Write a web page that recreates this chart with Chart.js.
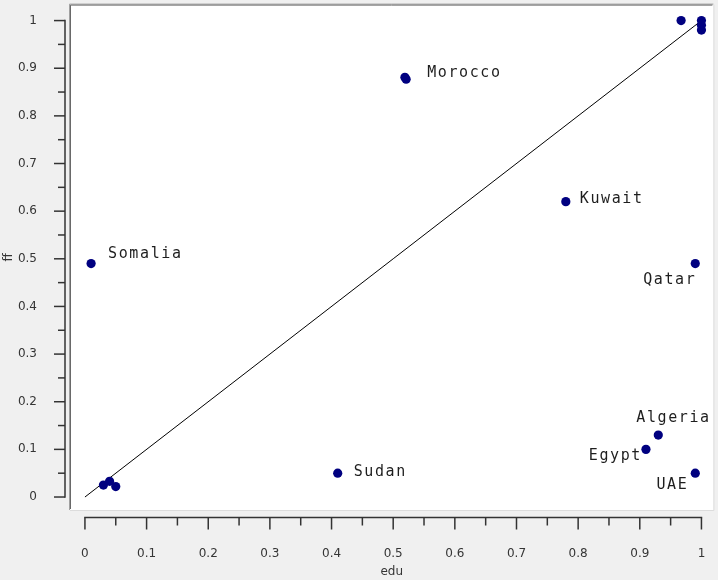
<!DOCTYPE html>
<html>
<head>
<meta charset="utf-8">
<script src="https://cdn.jsdelivr.net/npm/chart.js@4/dist/chart.umd.min.js"></script>
<style>
  html, body { margin: 0; padding: 0; background: #f0f0f0; }
  #wrap { width: 718px; height: 580px; position: relative; }
</style>
</head>
<body>
<div id="wrap"><canvas id="c" width="718" height="580"></canvas></div>
<script>
// ---- data ----
const countries = ['', '', '', '', '', 'Morocco', 'Kuwait', 'Qatar', 'Somalia', 'Sudan', 'Algeria', 'Egypt', 'UAE', '', '', ''];
const edu = [0.967, 1.0, 1.0, 1.0, 0.519, 0.521, 0.78, 0.99, 0.01, 0.41, 0.93, 0.91, 0.99, 0.03, 0.04, 0.05];
const ff  = [1.0, 1.0, 0.99, 0.98, 0.881, 0.877, 0.62, 0.49, 0.49, 0.05, 0.13, 0.10, 0.05, 0.025, 0.033, 0.022];
const fitX = [0, 1];
const fitY = [0, 1];
const xTicks = [0, 0.1, 0.2, 0.3, 0.4, 0.5, 0.6, 0.7, 0.8, 0.9, 1];
const xTickLabels = ['0', '0.1', '0.2', '0.3', '0.4', '0.5', '0.6', '0.7', '0.8', '0.9', '1'];
const yTicks = [0, 0.1, 0.2, 0.3, 0.4, 0.5, 0.6, 0.7, 0.8, 0.9, 1];
const yTickLabels = ['0', '0.1', '0.2', '0.3', '0.4', '0.5', '0.6', '0.7', '0.8', '0.9', '1'];
const xTitle = 'edu';
const yTitle = 'ff';

// ---- label placement (style, pixels relative to the point) ----
const labelStyle = {
  'Morocco': { dx: 21, dy: -2, align: 'left' },
  'Kuwait':  { dx: 14, dy: 1,  align: 'left' },
  'Qatar':   { dx: 1, dy: 20, align: 'right' },
  'Somalia': { dx: 17, dy: -6, align: 'left' },
  'Sudan':   { dx: 16, dy: 3,  align: 'left' },
  'Algeria': { dx: -22, dy: -13, align: 'left' },
  'Egypt':   { dx: -4, dy: 11,  align: 'right' },
  'UAE':     { dx: -7, dy: 16, align: 'right' }
};

const tickFont = { family: 'DejaVu Sans', size: 12 };
const textColor = '#353535';

const points = edu.map((v, i) => ({ x: v, y: ff[i] }));
const fitLine = fitX.map((v, i) => ({ x: v, y: fitY[i] }));

const framePlugin = {
  id: 'frame',
  beforeDraw(chart) {
    const { ctx, chartArea: a } = chart;
    ctx.save();
    ctx.fillStyle = '#f0f0f0';
    ctx.fillRect(0, 0, chart.width, chart.height);
    ctx.fillStyle = '#ffffff';
    ctx.fillRect(a.left, a.top, a.right - a.left, a.bottom - a.top);
    // sunken border
    ctx.strokeStyle = '#a0a0a0';
    ctx.lineWidth = 1;
    ctx.beginPath();
    ctx.moveTo(a.left - 0.5, a.bottom);
    ctx.lineTo(a.left - 0.5, a.top - 0.5);
    ctx.lineTo(a.right, a.top - 0.5);
    ctx.stroke();
    ctx.strokeStyle = '#696969';
    ctx.beginPath();
    ctx.moveTo(a.left + 0.5, a.bottom - 1);
    ctx.lineTo(a.left + 0.5, a.top + 0.5);
    ctx.lineTo(a.right - 1, a.top + 0.5);
    ctx.stroke();
    ctx.strokeStyle = '#dcdcdc';
    ctx.beginPath();
    ctx.moveTo(a.left, a.bottom + 0.5);
    ctx.lineTo(a.right + 0.5, a.bottom + 0.5);
    ctx.lineTo(a.right + 0.5, a.top);
    ctx.stroke();
    ctx.restore();
  },
  afterDraw(chart) {
    const { ctx, chartArea: a } = chart;
    const xs = chart.scales.x, ys = chart.scales.y;
    ctx.save();
    ctx.strokeStyle = '#333333';
    // y axis
    const axX = a.left - 5;
    const y0 = ys.getPixelForValue(yTicks[0]);
    const y1 = ys.getPixelForValue(yTicks[yTicks.length - 1]);
    ctx.lineWidth = 1.5;
    ctx.beginPath();
    ctx.moveTo(axX, y0 + 0.75);
    ctx.lineTo(axX, y1 - 0.75);
    ctx.stroke();
    for (let i = 0; i < yTicks.length; i++) {
      const p = ys.getPixelForValue(yTicks[i]);
      ctx.beginPath();
      ctx.moveTo(axX - 11, p);
      ctx.lineTo(axX, p);
      ctx.stroke();
      if (i < yTicks.length - 1) {
        const m = ys.getPixelForValue((yTicks[i] + yTicks[i + 1]) / 2);
        ctx.beginPath();
        ctx.moveTo(axX - 7, m);
        ctx.lineTo(axX, m);
        ctx.stroke();
      }
    }
    // x axis
    const axY = a.bottom + 7.5;
    const x0 = xs.getPixelForValue(xTicks[0]);
    const x1 = xs.getPixelForValue(xTicks[xTicks.length - 1]);
    ctx.beginPath();
    ctx.moveTo(x0 - 0.75, axY);
    ctx.lineTo(x1 + 0.75, axY);
    ctx.stroke();
    for (let i = 0; i < xTicks.length; i++) {
      const p = xs.getPixelForValue(xTicks[i]);
      ctx.beginPath();
      ctx.moveTo(p, axY);
      ctx.lineTo(p, axY + 12);
      ctx.stroke();
      if (i < xTicks.length - 1) {
        const m = xs.getPixelForValue((xTicks[i] + xTicks[i + 1]) / 2);
        ctx.beginPath();
        ctx.moveTo(m, axY);
        ctx.lineTo(m, axY + 8);
        ctx.stroke();
      }
    }
    // point labels
    ctx.font = '15px "DejaVu Sans Mono"';
    ctx.letterSpacing = '1.6px';
    ctx.fillStyle = '#1e1e1e';
    ctx.textBaseline = 'alphabetic';
    for (let i = 0; i < countries.length; i++) {
      const name = countries[i];
      if (!name) continue;
      const st = labelStyle[name];
      const px = xs.getPixelForValue(edu[i]);
      const py = ys.getPixelForValue(ff[i]);
      ctx.textAlign = st.align;
      ctx.fillText(name, px + st.dx, py + st.dy);
    }
    ctx.restore();
  }
};

new Chart(document.getElementById('c'), {
  type: 'scatter',
  data: {
    datasets: [
      {
        type: 'line',
        data: fitLine,
        borderColor: '#000000',
        borderWidth: 1,
        pointRadius: 0,
        fill: false,
        order: 2
      },
      {
        type: 'scatter',
        data: points,
        backgroundColor: '#000080',
        borderColor: '#000080',
        borderWidth: 0,
        pointRadius: 4.6,
        pointHoverRadius: 4.6,
        order: 1
      }
    ]
  },
  options: {
    responsive: false,
    animation: false,
    devicePixelRatio: 1,
    layout: { padding: { top: 4, right: 2, left: 0, bottom: 0 } },
    plugins: { legend: { display: false }, tooltip: { enabled: false } },
    scales: {
      x: {
        type: 'linear',
        min: -0.02423,
        max: 1.01939,
        grid: { display: false },
        border: { display: false },
        afterFit(s) { s.height = 70; s.paddingLeft = 0; s.paddingRight = 0; },
        afterBuildTicks(s) { s.ticks = xTicks.map(v => ({ value: v })); },
        ticks: {
          padding: 29,
          color: textColor,
          font: tickFont,
          autoSkip: false,
          maxRotation: 0,
          callback: (v, i) => xTickLabels[i]
        },
        title: {
          display: true,
          text: xTitle,
          color: textColor,
          font: { family: 'DejaVu Sans', size: 12, lineHeight: 1 },
          padding: { top: 0, bottom: 2.5 }
        }
      },
      y: {
        type: 'linear',
        min: -0.02725,
        max: 1.03354,
        grid: { display: false },
        border: { display: false },
        afterFit(s) { s.width = 70; s.paddingTop = 0; s.paddingBottom = 0; },
        afterBuildTicks(s) { s.ticks = yTicks.map(v => ({ value: v })); },
        ticks: {
          padding: 25,
          color: textColor,
          font: tickFont,
          autoSkip: false,
          callback: (v, i) => yTickLabels[i]
        },
        title: {
          display: true,
          text: yTitle,
          color: textColor,
          font: { family: 'DejaVu Sans', size: 12, lineHeight: 1 },
          padding: { top: 3, bottom: 0 }
        }
      }
    }
  },
  plugins: [framePlugin]
});
</script>
</body>
</html>
